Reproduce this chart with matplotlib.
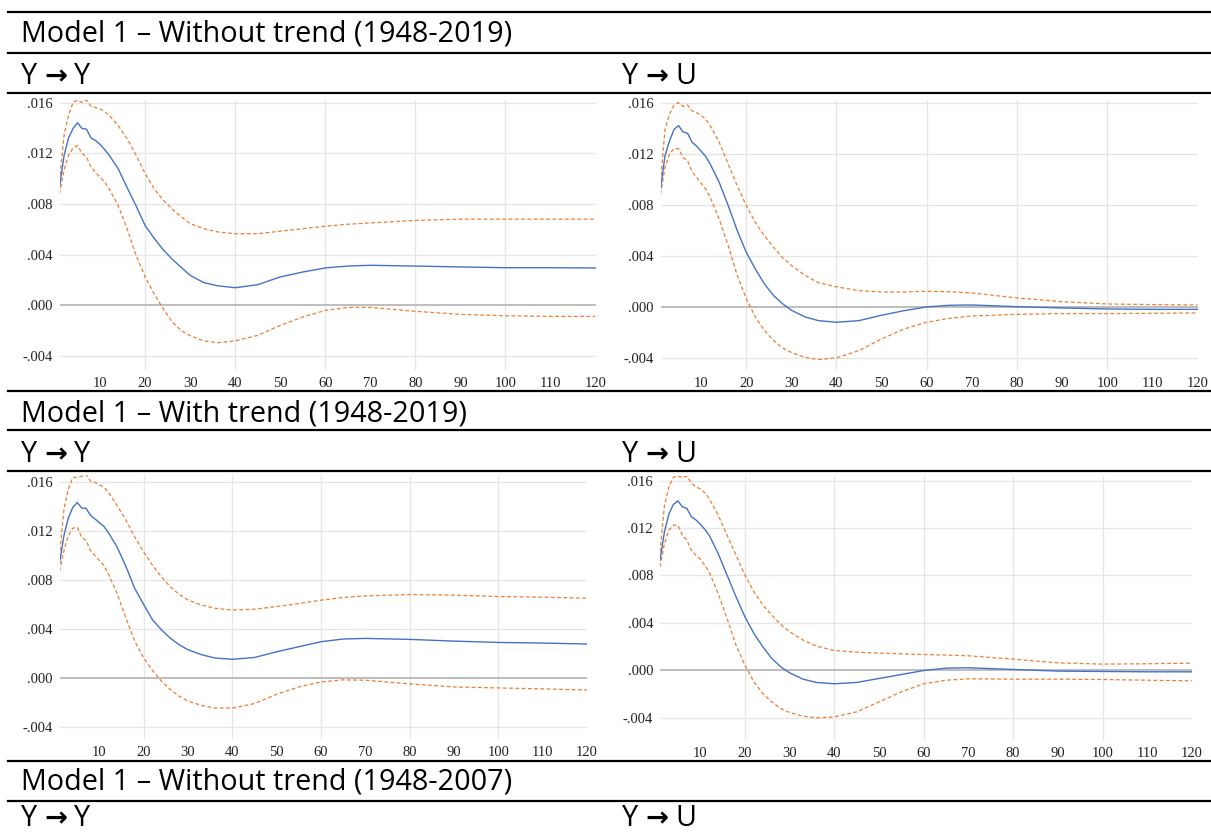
import numpy as np
import matplotlib
matplotlib.use("Agg")
import matplotlib.pyplot as plt
from matplotlib.lines import Line2D

# impulse responses, in thousandths (x 1e-3)
periods = [1, 2, 3, 4, 5, 6, 7, 8, 9, 10, 11, 12, 14, 16, 18, 20, 22, 24, 26, 28,
           30, 33, 36, 40, 45, 50, 55, 60, 65, 70, 80, 90, 100, 110, 120]

# Model 1 - Without trend (1948-2019), Y -> Y
m1_nt_yy = [9.3, 11.8, 13.2, 13.95, 14.4, 13.95, 13.9, 13.2, 13.0, 12.7, 12.3, 11.85, 10.8, 9.3, 7.85, 6.3,
            5.3, 4.4, 3.65, 3.0, 2.37, 1.8, 1.55, 1.39, 1.63, 2.24, 2.63, 2.95, 3.1, 3.16, 3.1, 3.03, 2.97, 2.97, 2.95]
m1_nt_yy_hi = [9.8, 13.4, 15.0, 16.0, 16.2, 16.0, 16.2, 15.7, 15.6, 15.5, 15.3, 15.0, 14.2, 13.15, 11.85, 10.4,
               9.2, 8.3, 7.6, 7.0, 6.45, 6.05, 5.8, 5.65, 5.65, 5.85, 6.05, 6.24, 6.4, 6.5, 6.7, 6.8, 6.8, 6.8, 6.8]
m1_nt_yy_lo = [8.8, 10.65, 11.85, 12.4, 12.6, 12.0, 11.7, 10.9, 10.5, 10.1, 9.75, 9.2, 7.9, 6.05, 3.95, 2.24,
               0.92, -0.26, -1.3, -1.97, -2.4, -2.8, -2.95, -2.8, -2.37, -1.58, -0.92, -0.4, -0.16, -0.16, -0.47,
               -0.71, -0.82, -0.87, -0.87]

# Model 1 - Without trend (1948-2019), Y -> U
m1_nt_yu = [9.25, 11.85, 13.0, 13.9, 14.2, 13.7, 13.6, 12.9, 12.6, 12.2, 11.8, 11.2, 9.77, 7.95, 6.0, 4.3,
            3.0, 1.84, 0.94, 0.29, -0.23, -0.75, -1.04, -1.17, -1.04, -0.62, -0.26, 0.03, 0.16, 0.18, 0.05,
            -0.05, -0.13, -0.16, -0.16]
m1_nt_yu_hi = [9.8, 13.9, 15.1, 15.8, 16.0, 15.7, 15.8, 15.35, 15.2, 15.0, 14.7, 14.2, 12.9, 11.2, 9.5, 7.95,
               6.65, 5.6, 4.7, 3.9, 3.27, 2.5, 1.92, 1.6, 1.3, 1.2, 1.2, 1.25, 1.22, 1.12, 0.73, 0.44, 0.26, 0.21, 0.18]
m1_nt_yu_lo = [8.85, 10.9, 12.0, 12.4, 12.4, 11.7, 11.45, 10.6, 10.15, 9.7, 9.25, 8.6, 6.9, 4.83, 2.5, 0.68,
               -0.75, -1.8, -2.57, -3.17, -3.53, -3.92, -4.08, -3.95, -3.38, -2.47, -1.69, -1.17, -0.86, -0.68,
               -0.55, -0.49, -0.49, -0.47, -0.44]

# Model 1 - With trend (1948-2019), Y -> Y
m1_wt_yy = [9.35, 11.65, 13.1, 13.95, 14.35, 13.9, 13.87, 13.3, 13.0, 12.7, 12.4, 11.9, 10.7, 9.1, 7.3, 6.0,
            4.74, 3.93, 3.25, 2.71, 2.3, 1.9, 1.63, 1.52, 1.67, 2.14, 2.55, 2.96, 3.18, 3.23, 3.15, 3.01, 2.9,
            2.85, 2.77]
m1_wt_yy_hi = [9.9, 13.8, 15.45, 16.4, 16.4, 16.5, 16.65, 16.1, 16.0, 15.8, 15.6, 15.2, 14.1, 12.9, 11.5, 10.3,
               9.2, 8.27, 7.45, 6.83, 6.37, 5.96, 5.7, 5.55, 5.62, 5.84, 6.08, 6.36, 6.58, 6.71, 6.82, 6.77, 6.66,
               6.6, 6.52]
m1_wt_yy_lo = [8.73, 10.4, 11.65, 12.25, 12.33, 11.5, 11.25, 10.4, 10.0, 9.6, 9.2, 8.54, 6.9, 4.88, 2.98, 1.63,
               0.6, -0.27, -0.95, -1.5, -1.9, -2.25, -2.47, -2.47, -2.1, -1.34, -0.74, -0.33, -0.16, -0.19, -0.49,
               -0.74, -0.82, -0.9, -0.99]

# Model 1 - With trend (1948-2019), Y -> U
m1_wt_yu = [9.3, 11.7, 13.2, 14.0, 14.3, 13.8, 13.66, 12.96, 12.7, 12.34, 11.9, 11.4, 9.86, 8.03, 6.2, 4.5,
            3.1, 1.97, 0.99, 0.28, -0.23, -0.76, -1.04, -1.15, -1.04, -0.7, -0.37, -0.03, 0.17, 0.2, 0.06,
            -0.08, -0.11, -0.14, -0.14]
m1_wt_yu_hi = [10.0, 13.9, 15.5, 16.3, 16.4, 16.25, 16.4, 15.8, 15.5, 15.3, 15.0, 14.5, 13.1, 11.4, 9.72, 8.03,
               6.62, 5.5, 4.65, 3.86, 3.24, 2.54, 2.03, 1.66, 1.52, 1.44, 1.38, 1.32, 1.27, 1.21, 0.93, 0.62, 0.51,
               0.54, 0.59]
m1_wt_yu_lo = [8.73, 10.7, 11.83, 12.25, 12.25, 11.4, 11.0, 10.14, 9.72, 9.38, 8.87, 8.3, 6.48, 4.37, 2.11, 0.42,
               -0.99, -1.97, -2.68, -3.24, -3.58, -3.89, -4.03, -3.95, -3.52, -2.68, -1.83, -1.15, -0.85, -0.73,
               -0.76, -0.76, -0.79, -0.85, -0.9]

x_ticks = list(range(10, 121, 10))
x_grid = [20, 40, 60, 80, 100]
y_ticks = [0.016, 0.012, 0.008, 0.004, 0.000, -0.004]

W, H = 1211, 832
BLUE = "#4472C4"
ORANGE = "#ED7D31"
HEAD_FONT = ["Open Sans", "DejaVu Sans"]
HEAD_SIZE = 20.7
TICK_FONT = "Liberation Serif"


def px_box(x0, y0, x1, y1):
    # pixel box (top-left origin) -> figure fraction rect
    return [x0 / W, 1 - y1 / H, (x1 - x0) / W, (y1 - y0) / H]


def fmt_tick(v):
    return f"{v:.3f}".replace("0.", ".")


def draw_irf(ax, mid, hi, lo, ylim):
    x = np.array(periods)
    for yv in y_ticks:
        if yv == 0:
            ax.axhline(0, color="#bdbdbd", lw=1.4, zorder=1)
        else:
            ax.axhline(yv, color="#e6e6e6", lw=1.0, zorder=0)
    for xv in x_grid:
        ax.axvline(xv, color="#e6e6e6", lw=1.0, zorder=0)

    ax.plot(x, np.array(hi) * 1e-3, color=ORANGE, lw=0.9, ls=(0, (3, 2)), zorder=2)
    ax.plot(x, np.array(lo) * 1e-3, color=ORANGE, lw=0.9, ls=(0, (3, 2)), zorder=2)
    ax.plot(x, np.array(mid) * 1e-3, color=BLUE, lw=1.0, zorder=3)

    ax.set_xlim(1, 120)
    ax.set_ylim(*ylim)
    ax.set_xticks(x_ticks)
    ax.set_xticklabels([str(t) for t in x_ticks])
    ax.set_yticks(y_ticks)
    ax.set_yticklabels([fmt_tick(t) for t in y_ticks])
    ax.tick_params(length=0, labelsize=10.5, colors="#222222", pad=5)
    for lab in ax.get_xticklabels() + ax.get_yticklabels():
        lab.set_fontfamily(TICK_FONT)
    for s in ax.spines.values():
        s.set_visible(False)
    ax.set_facecolor("none")


def rule(fig, y):
    fig.add_artist(Line2D([8 / W, 1.0], [1 - y / H, 1 - y / H], transform=fig.transFigure,
                          color="black", lw=1.6))


def label(fig, x, y, text):
    fig.text(x / W, 1 - y / H, text, family=HEAD_FONT, fontsize=HEAD_SIZE, va="baseline", ha="left",
             color="black")


def arrow_label(fig, x, y, src, dst):
    # "Y -> U" with a heavier arrow, like the Word symbol in the original
    label(fig, x, y, src)
    fig.text((x + 23) / W, 1 - y / H, "\u2192", family="DejaVu Sans", fontweight="bold",
             fontsize=HEAD_SIZE - 1, va="baseline", ha="left", color="black")
    label(fig, x + 53, y, dst)


fig = plt.figure(figsize=(W / 100, H / 100), dpi=100)

for y in [12, 53, 92.5, 390.5, 430, 471.5, 760.7, 800.5]:
    rule(fig, y)

label(fig, 21, 42, "Model 1 \u2013 Without trend (1948-2019)")
arrow_label(fig, 21, 84, "Y", "Y")
arrow_label(fig, 622, 84, "Y", "U")
label(fig, 21, 421, "Model 1 \u2013 With trend (1948-2019)")
arrow_label(fig, 21, 462, "Y", "Y")
arrow_label(fig, 622, 462, "Y", "U")
label(fig, 21, 790, "Model 1 \u2013 Without trend (1948-2007)")
arrow_label(fig, 21, 826, "Y", "Y")
arrow_label(fig, 622, 826, "Y", "U")

ax1 = fig.add_axes(px_box(59.5, 100, 595.5, 370))
draw_irf(ax1, m1_nt_yy, m1_nt_yy_hi, m1_nt_yy_lo, (-0.0051, 0.0162))

ax2 = fig.add_axes(px_box(660.5, 100, 1197.5, 370))
draw_irf(ax2, m1_nt_yu, m1_nt_yu_hi, m1_nt_yu_lo, (-0.0049, 0.0162))

ax3 = fig.add_axes(px_box(59.5, 475, 587, 739))
draw_irf(ax3, m1_wt_yy, m1_wt_yy_hi, m1_wt_yy_lo, (-0.0050, 0.0166))

ax4 = fig.add_axes(px_box(660, 476, 1192, 740))
draw_irf(ax4, m1_wt_yu, m1_wt_yu_hi, m1_wt_yu_lo, (-0.0059, 0.0164))

fig.savefig("out.png", dpi=100)
